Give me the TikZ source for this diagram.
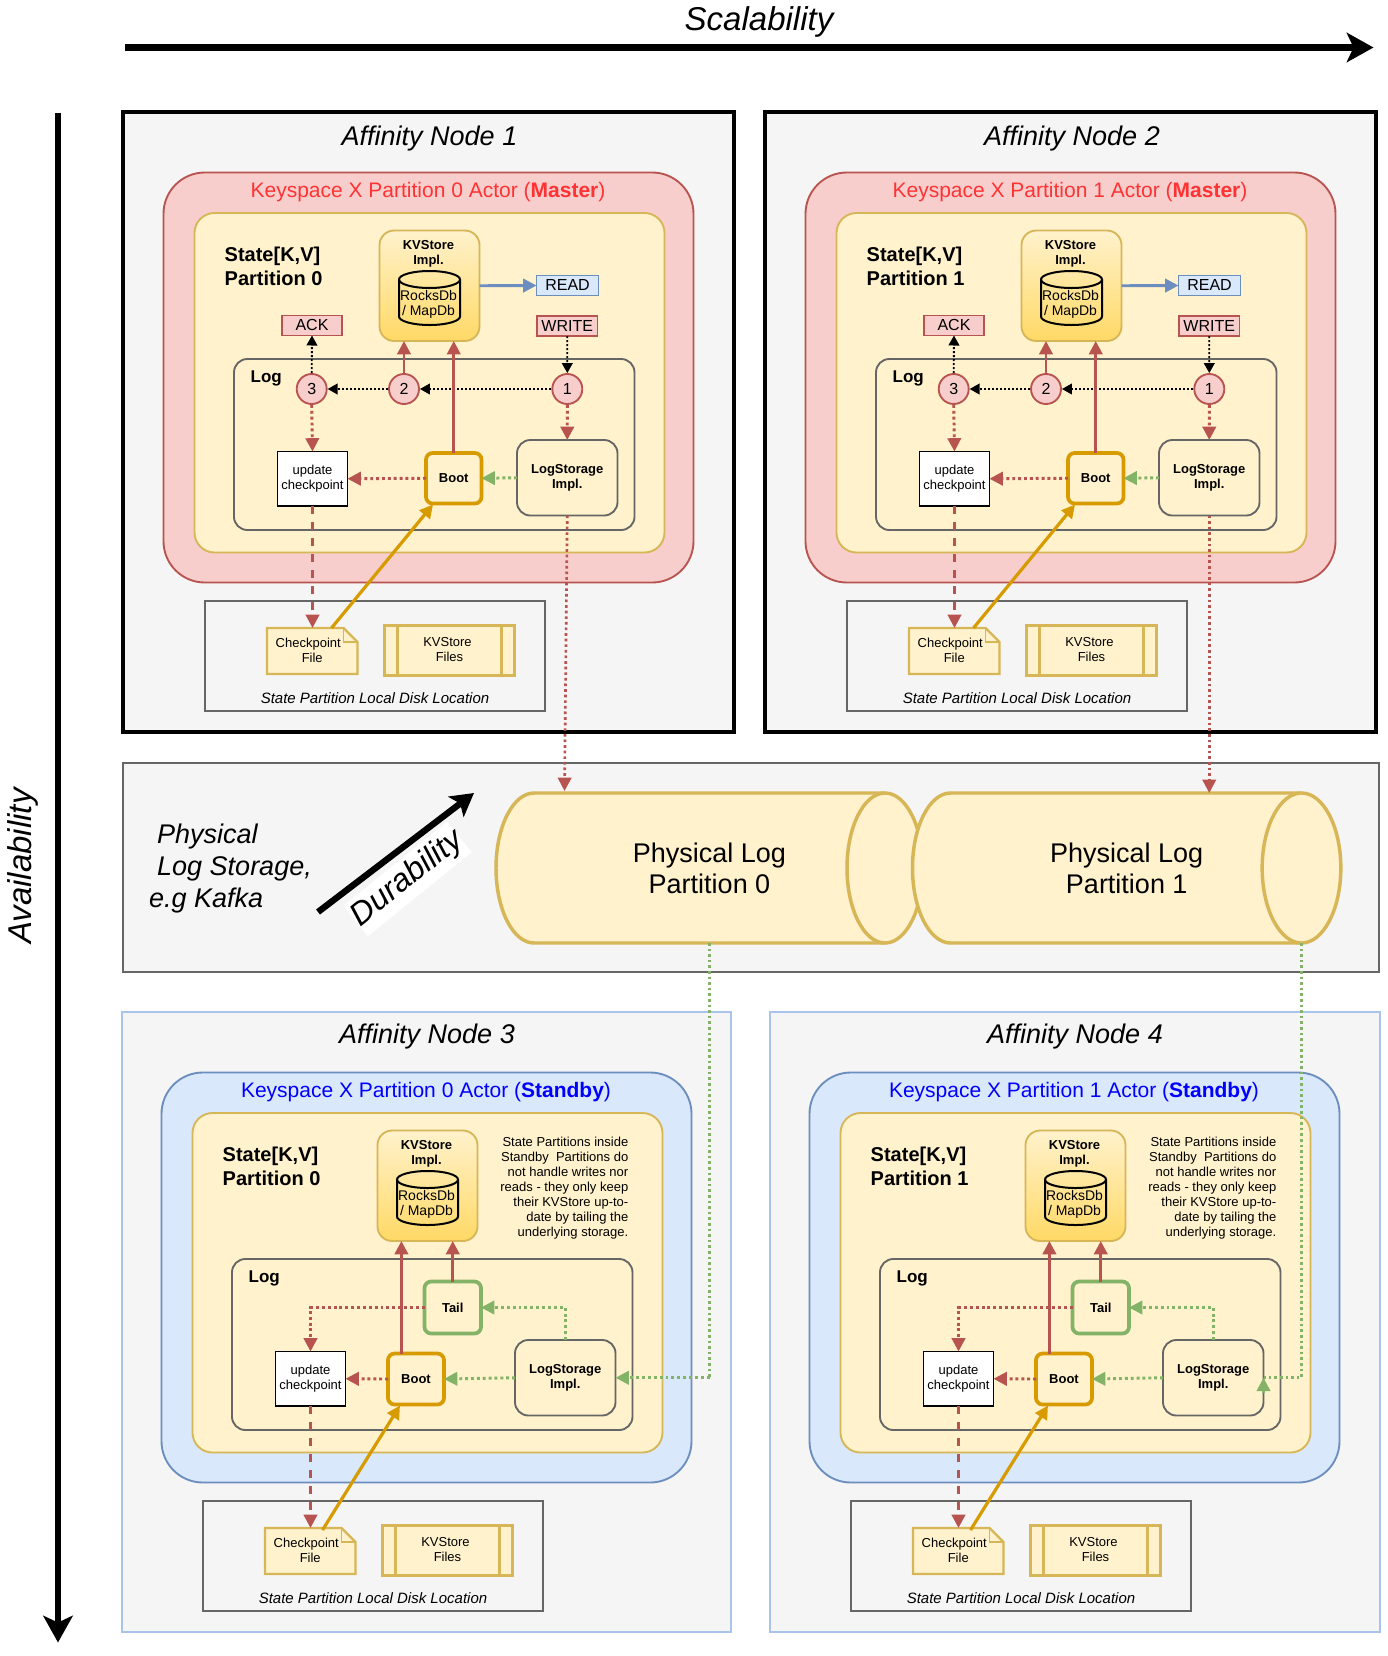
\documentclass[tikz,border=0pt]{standalone}
\usepackage{fontspec}
\setmainfont{Liberation Sans}
\usetikzlibrary{arrows.meta,calc}
\definecolor{pinkF}{HTML}{F8CECC}\definecolor{pinkS}{HTML}{B85450}
\definecolor{yelF}{HTML}{FFF2CC}\definecolor{yelS}{HTML}{D6B656}
\definecolor{bluF}{HTML}{DAE8FC}\definecolor{bluS}{HTML}{6C8EBF}
\definecolor{grnS}{HTML}{82B366}\definecolor{gldS}{HTML}{D79B00}
\definecolor{gryF}{HTML}{F5F5F5}\definecolor{gryS}{HTML}{666666}
\definecolor{kvB}{HTML}{FFD966}\definecolor{nodeB}{HTML}{A9C4EB}
\definecolor{redT}{HTML}{FF3333}
\newcommand\fpx[2]{\fontsize{\fpeval{#1*0.75}pt}{\fpeval{#2*0.75}pt}\selectfont}
% style, name, x1,y1,x2,y2, text
\newcommand\bx[7]{\node[#1,inner sep=0pt,outer sep=0pt,minimum width=\fpeval{(#5-#3)*0.75}pt,minimum height=\fpeval{(#6-#4)*0.75}pt] (#2) at ({(#3+#5)/2},{(#4+#6)/2}) {#7};}
\tikzset{
 hardbox/.style={draw=black,line width=3pt,fill=gryF},
 softbox/.style={draw=nodeB,line width=1.5pt,fill=gryF},
 masteractor/.style={draw=pinkS,fill=pinkF,line width=1.4pt,rounded corners=31pt},
 standbyactor/.style={draw=bluS,fill=bluF,line width=1.4pt,rounded corners=31pt},
 statebox/.style={draw=yelS,fill=yelF,line width=1.4pt,rounded corners=15pt},
 kvbox/.style={draw=yelS,top color=yelF,bottom color=kvB,line width=1.4pt,rounded corners=11pt},
 logbox/.style={draw=gryS,line width=1.4pt,rounded corners=10pt},
 lsbox/.style={draw=gryS,line width=1.4pt,rounded corners=10pt,fill=yelF,font=\fpx{13}{15.2}\bfseries,align=center},
 bootbox/.style={draw=gldS,line width=2.8pt,rounded corners=5pt,fill=yelF,font=\fpx{13}{15.2}\bfseries},
 tailbox/.style={draw=grnS,line width=2.8pt,rounded corners=5pt,fill=yelF,font=\fpx{13}{15.2}\bfseries},
 updbox/.style={draw=black,line width=.9pt,fill=white,font=\fpx{13}{15.2},align=center},
 diskbox/.style={draw=gryS,line width=1.5pt,fill=gryF},
 tagpink/.style={draw=pinkS,fill=pinkF,line width=.8pt,font=\fpx{16}{18}},
 tagblue/.style={draw=bluS,fill=bluF,line width=.8pt,font=\fpx{16}{18}},
 numdot/.style={circle,draw=pinkS,fill=pinkF,line width=1.4pt,inner sep=0pt,minimum size=22.5pt,font=\fpx{16}{18}},
 solidred/.style={draw=pinkS,line width=2.2pt,-{Triangle[length=10pt,width=10pt]}},
 dotred/.style={draw=pinkS,line width=2.2pt,dash pattern=on 2.2pt off 2.2pt,-{Triangle[length=10pt,width=10pt]}},
 dashred/.style={draw=pinkS,line width=2.2pt,dash pattern=on 6pt off 6pt,-{Triangle[length=10pt,width=10pt]}},
 longred/.style={draw=pinkS,line width=2pt,dash pattern=on 2pt off 2.2pt,-{Triangle[length=10pt,width=10pt]}},
 dotgreen/.style={draw=grnS,line width=2.2pt,dash pattern=on 2.2pt off 2.2pt,-{Triangle[length=10pt,width=10pt]}},
 longgreen/.style={draw=grnS,line width=2pt,dash pattern=on 2pt off 2.2pt},
 dotblack/.style={draw=black,line width=1.4pt,dash pattern=on 1.5pt off 1.5pt,-{Triangle[length=7.5pt,width=8pt]}},
 bluearrow/.style={draw=bluS,line width=2.2pt,-{Triangle[length=10pt,width=10pt]}},
 goldarrow/.style={draw=gldS,line width=2.4pt,-{Triangle[length=10pt,width=10pt]}},
 bigarrow/.style={draw=black,line width=5.2pt,-{Stealth[length=20pt,width=22pt,inset=5pt]}},
 midarrow/.style={draw=black,line width=4.8pt,-{Stealth[length=17pt,width=19pt,inset=4pt]}},
 titlet/.style={font=\fpx{27}{32}\itshape},
 cylstyle/.style={draw=yelS,fill=yelF,line width=2.6pt,line join=round},
}
% shared part of a partition block; #1 actor style, #2 text colour, #3 label, #4 partition number
\newcommand\sharedblock[4]{%
 \bx{#1}{actor}{163.5}{172.5}{693.5}{582.5}{}
 \node[text=#2,font=\fpx{21}{24}] (actorlabel) at (428,192.5) {#3};
 \bx{statebox}{state}{194.5}{213}{664.5}{552.5}{}
 \node[anchor=west,align=left,font=\fpx{20}{24}\bfseries] (statelabel) at (220,266) {State[K,V]\\Partition #4};
 \bx{kvbox}{kv}{379.5}{230.5}{479.5}{341}{}
 \node[align=center,font=\fpx{13}{15.2}\bfseries] (kvlabel) at (428.5,254) {KVStore\\Impl.};
 \bx{}{cyl}{399}{271}{460}{325}{}
 \draw[draw=black,line width=1.5pt] ($(cyl.north west)+(0,8.5)$) arc[start angle=180,end angle=0,x radius=22.875pt,y radius=6.375pt] -- ($(cyl.south east)+(0,-8.5)$) arc[start angle=0,end angle=-180,x radius=22.875pt,y radius=6.375pt] -- cycle;
 \draw[draw=black,line width=1.5pt] ($(cyl.north west)+(0,8.5)$) arc[start angle=180,end angle=360,x radius=22.875pt,y radius=6.375pt];
 \node[font=\fpx{14}{15.2},align=center] (cyllabel) at (428.5,304) {RocksDb\\/ MapDb};
 \bx{logbox}{log}{234}{359}{634.5}{530}{}
 \node[anchor=west,font=\fpx{17}{20}\bfseries] (loglabel) at (246,378) {Log};
 \bx{updbox}{upd}{277.5}{451.5}{347.5}{506}{update\\checkpoint}
 \bx{lsbox}{ls}{517}{440}{617.5}{515.5}{LogStorage\\Impl.}
 \bx{diskbox}{disk}{204.5}{600.5}{545}{710.5}{}
 \node[font=\fpx{15}{17}\itshape] (disklabel) at (375,698) {State Partition Local Disk Location};
 \bx{}{file}{267}{628}{357.5}{674}{}
 \draw[draw=yelS,fill=yelF,line width=1.8pt] (file.north west) -- ($(file.north east)+(-14,0)$) -- ($(file.north east)+(0,14)$) -- (file.south east) -- (file.south west) -- cycle;
 \draw[draw=yelS,line width=1.4pt] ($(file.north east)+(-14,0)$) -- ($(file.north east)+(-14,14)$) -- ($(file.north east)+(0,14)$);
 \node[font=\fpx{13}{15.2},align=center] (filelabel) at ($(file.center)+(0,-1)$) {Checkpoint\hspace*{6pt}\\File};
 \bx{draw=yelS,fill=yelF,line width=1.8pt}{kvf}{384.5}{625.5}{514.5}{675.5}{}
 \draw[draw=yelS,line width=1.8pt] ($(kvf.north west)+(13,0)$) -- ($(kvf.south west)+(13,0)$);
 \draw[draw=yelS,line width=1.8pt] ($(kvf.north east)+(-13,0)$) -- ($(kvf.south east)+(-13,0)$);
 \node[font=\fpx{13}{15.2},align=center] (kvflabel) at ($(kvf.center)+(0,-1)$) {KVStore\hspace*{3pt}\\Files};
 \draw[dashred] (upd.south) -- (upd.south |- file.north);
}
\newcommand\masterblock[1]{%
 \sharedblock{masteractor}{redT}{Keyspace X Partition #1 Actor ({\bfseries Master})}{#1}
 \bx{tagblue}{read}{536.5}{275.5}{598.5}{295.5}{\raisebox{1pt}{READ}}
 \bx{tagpink}{ack}{282}{315.5}{342}{335.5}{\raisebox{1pt}{ACK}}
 \bx{tagpink}{write}{537}{316}{597.5}{336}{\raisebox{.7pt}{WRITE}}
 \node[numdot] (c3) at (311.7,389) {3};
 \node[numdot] (c2) at (404,389) {2};
 \node[numdot] (c1) at (567.3,389) {1};
 \bx{bootbox}{boot}{426}{453}{481.5}{503.5}{Boot}
 \draw[bluearrow] (kv.east) -- (read.west);
 \draw[dotblack] (write.south) -- (c1.north);
 \draw[dotblack] (c1.west) -- (c2.east);
 \draw[dotblack] (c2.west) -- (c3.east);
 \draw[dotblack] (c3.north) -- (ack.south);
 \draw[dotred] (c1.south) -- (ls.north);
 \draw[dotred] (c3.south) -- (upd.north);
 \draw[solidred] (c2.north) -- (c2.north |- kv.south);
 \draw[solidred] (boot.north) -- (boot.north |- kv.south);
 \draw[dotred] (boot.west) -- (upd.east);
 \draw[dotgreen] (ls.west) -- (boot.east);
 \coordinate (gs) at (331.5,628);
 \coordinate (ge) at (433,504.5);
 \draw[goldarrow] (gs) -- (ge);
}
\newcommand\standbyblock[1]{%
 \sharedblock{standbyactor}{blue}{Keyspace X Partition #1 Actor ({\bfseries Standby})}{#1}
 \node[anchor=east,align=right,font=\fpx{13}{15}] (note) at (635,288) {State Partitions inside\\Standby\ \ Partitions do\\not handle writes nor\\reads - they only keep\\their KVStore up-to-\\date by tailing the\\underlying storage.};
 \bx{bootbox}{boot}{390}{453.5}{446}{504.5}{Boot}
 \bx{tailbox}{tail}{426.5}{381.5}{483}{433.5}{Tail}
 \coordinate (bu) at ($(boot.north)+(-14.6,0)$);
 \draw[solidred] (bu) -- (bu |- kv.south);
 \draw[solidred] (tail.north) -- (tail.north |- kv.south);
 \draw[dotred] (tail.west) -| (upd.north);
 \draw[dotred] (boot.west) -- (upd.east);
 \draw[dotgreen] (ls.west) -- (boot.east);
 \draw[dotgreen] (ls.north) |- (tail.east);
 \coordinate (gs) at (324.5,630);
 \coordinate (ge) at (402,505.5);
 \draw[goldarrow] (gs) -- (ge);
}
\begin{document}
\begin{tikzpicture}[x=0.75pt,y=-0.75pt]
\useasboundingbox (0,0) rectangle (1388,1656);
\fill[white] (0,0) rectangle (1388,1656);
% axes
\node[font=\fpx{33}{38}\itshape] (scal) at (759,22) {Scalability};
\coordinate (sa) at (125,47.5); \coordinate (sb) at (1373.5,47.5);
\draw[bigarrow] (sa) -- (sb);
\node[rotate=90,font=\fpx{33}{38}\itshape] (avail) at (23,866) {Availability};
\coordinate (aa) at (58,113); \coordinate (ab) at (58,1642.5);
\draw[bigarrow] (aa) -- (ab);
% outer node frames
\bx{hardbox}{f1}{123}{112}{734}{732}{}
\node[titlet] (t1) at (429.5,139) {Affinity Node 1};
\bx{hardbox}{f2}{765}{112}{1376}{732}{}
\node[titlet] (t2) at (1072,139) {Affinity Node 2};
\bx{softbox}{f3}{122}{1012}{731}{1632}{}
\node[titlet] (t3) at (427,1037) {Affinity Node 3};
\bx{softbox}{f4}{769.5}{1012}{1380}{1632}{}
\node[titlet] (t4) at (1075,1037) {Affinity Node 4};
% partition blocks
\begin{scope}[name prefix=na-]\masterblock{0}\end{scope}
\begin{scope}[shift={(642,0)},name prefix=nb-]\masterblock{1}\end{scope}
\begin{scope}[shift={(-2,900)},name prefix=nc-]\standbyblock{0}\end{scope}
\begin{scope}[shift={(646,900)},name prefix=nd-]\standbyblock{1}\end{scope}
% physical log
\bx{draw=gryS,fill=gryF,line width=1.5pt}{plog}{123}{763}{1379}{972}{}
\node[anchor=west,font=\fpx{27}{31}\itshape] (pl1) at (152.5,837) {Physical};
\node[anchor=west,font=\fpx{27}{31}\itshape] (pl2) at (152.5,869) {Log Storage,};
\node[anchor=west,font=\fpx{27}{31}\itshape] (pl3) at (144.5,901) {e.g Kafka};
\coordinate (da) at (318,912); \coordinate (db) at (474,793);
\node[rotate=39,fill=white,inner xsep=0pt,inner ysep=3.5pt,font=\fpx{32}{36}\itshape] (dur) at (407.5,879) {Durability};
\draw[midarrow] (da) -- (db);
\draw[cylstyle] (534,793) -- (885,793) arc[start angle=90,end angle=-90,x radius=28.5pt,y radius=56.25pt] -- (534,943) arc[start angle=270,end angle=90,x radius=28.5pt,y radius=56.25pt] -- cycle;
\draw[cylstyle] (885,793) arc[start angle=90,end angle=270,x radius=28.5pt,y radius=56.25pt];
\draw[cylstyle] (950.5,793) -- (1301.5,793) arc[start angle=90,end angle=-90,x radius=29.5pt,y radius=56.25pt] -- (950.5,943) arc[start angle=270,end angle=90,x radius=28.5pt,y radius=56.25pt] -- cycle;
\draw[cylstyle] (1301.5,793) arc[start angle=90,end angle=270,x radius=29.5pt,y radius=56.25pt];
\bx{font=\fpx{27}{31},align=center}{p0}{496}{793}{923}{943}{Physical Log\\Partition 0}
\bx{font=\fpx{27}{31},align=center}{p1}{912.5}{793}{1341}{943}{Physical Log\\Partition 1}
\coordinate (p1end) at (1301.5,943);
\coordinate (rt) at (564.5,791);
% links between nodes and logs
\draw[longred] (na-ls.south) -- (rt);
\draw[longred] (nb-ls.south) -- (nb-ls.south |- p1.north);
\draw[longgreen] (p0.south) -- (p0.south |- nc-ls.east);
\draw[dotgreen] (p0.south |- nc-ls.east) -- (nc-ls.east);
\draw[longgreen] (p1end) |- (nd-ls.east);
\coordinate (tipbase) at ($(nd-ls.east)+(0,15)$);
\draw[dotgreen,solid] (tipbase) -- (nd-ls.east);
\end{tikzpicture}
\end{document}
